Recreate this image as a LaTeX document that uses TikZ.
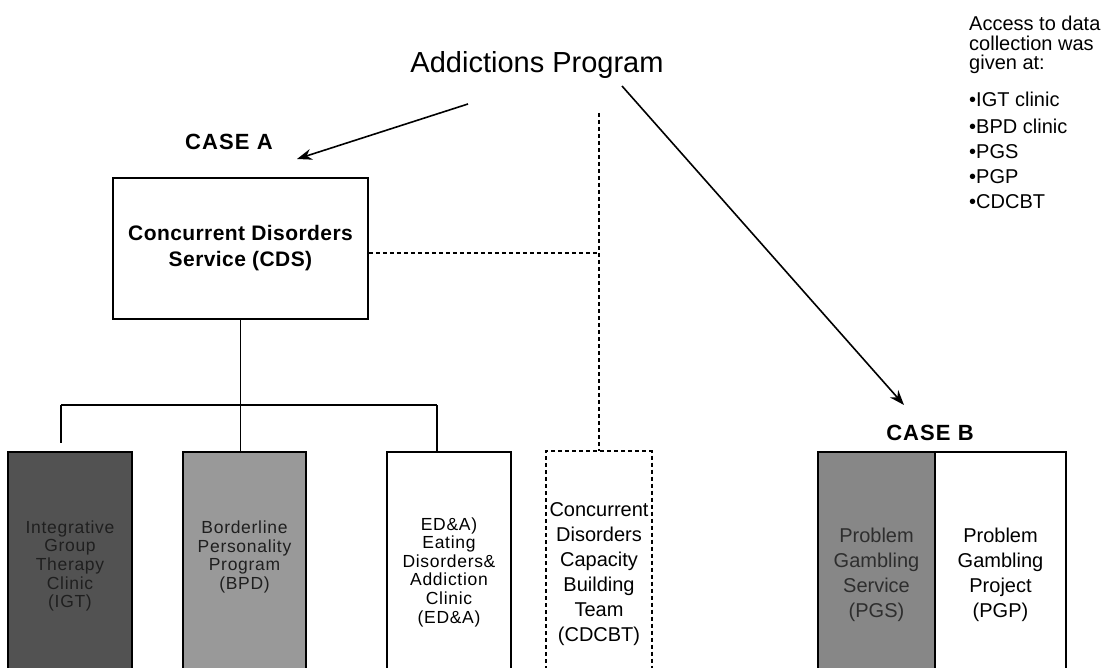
\documentclass[tikz,border=0pt]{standalone}
\usepackage{fontspec}
\setmainfont{Liberation Sans}
\usetikzlibrary{arrows.meta,calc}

\begin{document}
\begin{tikzpicture}[x=1pt,y=-1pt,
  unitbox/.style={draw=black, line width=1.8pt, minimum height=238pt, inner sep=0pt},
  smalltext/.style={align=center, font=\fontsize{17.5}{18.6}\selectfont\addfontfeatures{LetterSpace=4}, inner sep=0pt},
  largetext/.style={align=center, font=\fontsize{20}{25}\selectfont, inner sep=0pt},
  casetext/.style={font=\bfseries\fontsize{22}{24}\selectfont\addfontfeatures{LetterSpace=5}},
  notetext/.style={anchor=west, font=\fontsize{20}{21}\selectfont, inner sep=0pt},
  link/.style={line width=1.8pt},
  dashlink/.style={line width=1.5pt, dash pattern=on 4pt off 3pt},
  bigarrow/.style={line width=1.6pt, -{Stealth[length=15pt,width=11pt]}}
]
\clip (0,0) rectangle (1110,668);
\fill[white] (0,0) rectangle (1110,668);

% title and case labels
\node[font=\fontsize{29}{31}\selectfont] (prog) at (537,65) {Addictions Program};
\node[casetext] (caseA) at (229,142) {CASE A};
\node[casetext] (caseB) at (930,433) {CASE B};

% Concurrent Disorders Service
\node[draw=black, line width=1.8pt, minimum width=255pt, minimum height=141pt,
      align=center, font=\bfseries\fontsize{21}{26}\selectfont\addfontfeatures{LetterSpace=2}] (cds) at (240.5,248.5)
      {Concurrent Disorders\\Service (CDS)};

% clinics under CDS
\node[unitbox, minimum width=124pt, fill=black!68] (igt) at (70,571) {};
\node[smalltext, text=black!88] (igtt) at ($(igt.center)+(0,-5)$) {Integrative\\Group\\Therapy\\Clinic\\(IGT)};

\node[unitbox, minimum width=123pt, fill=black!40] (bpd) at (244.5,571) {};
\node[smalltext, text=black!88] (bpdt) at ($(bpd.center)+(0,-14)$) {Borderline\\Personality\\Program\\(BPD)};

\node[unitbox, minimum width=124pt, fill=white] (eda) at (449,571) {};
\node[smalltext] (edat) at ($(eda.center)+(0,1)$) {ED\&A)\\Eating\\Disorders\&\\Addiction\\Clinic\\(ED\&A)};

\node[unitbox, draw=none, minimum width=104pt, fill=white] (cdcbt) at (599,571) {};
\draw[dashlink] (cdcbt.south west) rectangle (cdcbt.north east);
\node[largetext] (cdcbtt) at ($(cdcbt.center)+(0,3)$) {Concurrent\\Disorders\\Capacity\\Building\\Team\\(CDCBT)};

% gambling units
\node[unitbox, line width=2.4pt, minimum width=117pt, fill=black!47] (pgs) at (876.5,571) {};
\node[largetext, text=black!82] (pgst) at ($(pgs.center)+(0,4)$) {Problem\\Gambling\\Service\\(PGS)};
\node[unitbox, minimum width=131pt, fill=white] (pgp) at (1000.5,571) {};
\node[largetext] (pgpt) at ($(pgp.center)+(0,4)$) {Problem\\Gambling\\Project\\(PGP)};

% organisational tree under CDS
\coordinate (barL) at (61,405);
\coordinate (barR) at (437,405);
\coordinate (igtdrop) at (61,443);
\draw[link] (barL) -- (barR);
\draw[link] (cds.south) -- (cds.south |- bpd.north);
\draw[link] (barL) -- (igtdrop);
\draw[link] (barR) -- (barR |- eda.north);

% dashed capacity-building link
\coordinate (dtop) at (599,113);
\coordinate (djoin) at (599,253);
\draw[dashlink] (dtop) -- (cdcbt.north);
\draw[dashlink] (cds.east |- djoin) -- (djoin);

% arrows from the programme to the two cases
\coordinate (aStart) at (468,104);
\coordinate (aTip) at (297,159);
\coordinate (bStart) at (622,86);
\coordinate (bTip) at (904,405);
\draw[bigarrow] (aStart) -- (aTip);
\draw[bigarrow] (bStart) -- (bTip);

% data collection note
\node[notetext] (n1) at (969,23) {Access to data};
\node[notetext] (n2) at (969,43) {collection was};
\node[notetext] (n3) at (969,64) {given at:};
\node[notetext] (b1) at (969,99) {•IGT clinic};
\node[notetext] (b2) at (969,126) {•BPD clinic};
\node[notetext] (b3) at (969,152) {•PGS};
\node[notetext] (b4) at (969,177) {•PGP};
\node[notetext] (b5) at (969,202) {•CDCBT};
\end{tikzpicture}
\end{document}
